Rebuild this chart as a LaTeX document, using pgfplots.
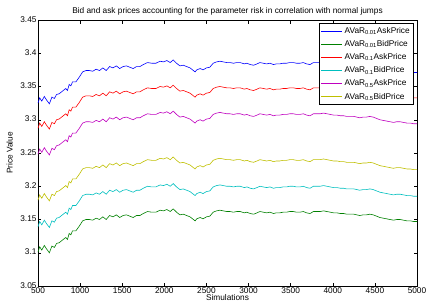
\documentclass[border=0pt]{standalone}
\usepackage{pgfplots}
\pgfplotsset{compat=1.18}
\usepackage{pgfplotstable}
\usepackage{fontspec}
\setmainfont{Liberation Sans}
\definecolor{mblue}{rgb}{0,0,1}
\definecolor{mgreen}{rgb}{0,0.5,0}
\definecolor{mred}{rgb}{1,0,0}
\definecolor{mcyan}{rgb}{0,0.75,0.75}
\definecolor{mmag}{rgb}{0.75,0,0.75}
\definecolor{myel}{rgb}{0.75,0.75,0}
\pgfplotstableread{
x ask001 bid001 ask01 bid01 ask05 bid05
500 3.325 3.101 3.287 3.139 3.248 3.179
520 3.333 3.109 3.295 3.147 3.256 3.187
545 3.328 3.104 3.290 3.142 3.251 3.182
575 3.335 3.111 3.297 3.149 3.258 3.189
600 3.330 3.106 3.292 3.144 3.253 3.184
635 3.324 3.100 3.286 3.138 3.247 3.178
665 3.334 3.110 3.296 3.148 3.257 3.188
695 3.332 3.108 3.294 3.146 3.255 3.186
720 3.338 3.114 3.300 3.152 3.261 3.192
750 3.339 3.115 3.301 3.153 3.262 3.193
790 3.343 3.119 3.305 3.157 3.266 3.197
830 3.347 3.123 3.309 3.161 3.270 3.201
850 3.344 3.120 3.306 3.158 3.267 3.198
870 3.353 3.129 3.315 3.167 3.276 3.207
890 3.351 3.127 3.313 3.165 3.274 3.205
910 3.357 3.133 3.319 3.171 3.280 3.211
950 3.357 3.133 3.319 3.171 3.280 3.211
990 3.364 3.140 3.326 3.178 3.287 3.218
1030 3.372 3.148 3.334 3.186 3.295 3.226
1070 3.374 3.150 3.336 3.188 3.297 3.228
1110 3.374 3.150 3.336 3.188 3.297 3.228
1150 3.373 3.149 3.335 3.187 3.296 3.227
1190 3.376 3.152 3.338 3.190 3.299 3.230
1230 3.374 3.150 3.336 3.188 3.297 3.228
1270 3.378 3.154 3.340 3.192 3.301 3.232
1310 3.374 3.150 3.336 3.188 3.297 3.228
1350 3.380 3.156 3.342 3.194 3.303 3.234
1390 3.378 3.154 3.340 3.192 3.301 3.232
1430 3.381 3.157 3.343 3.195 3.304 3.235
1470 3.377 3.153 3.339 3.191 3.300 3.231
1510 3.380 3.156 3.342 3.194 3.303 3.234
1550 3.381 3.157 3.343 3.195 3.304 3.235
1590 3.379 3.155 3.341 3.193 3.302 3.233
1630 3.377 3.153 3.339 3.191 3.300 3.231
1670 3.380 3.156 3.342 3.194 3.303 3.234
1710 3.380 3.156 3.342 3.194 3.303 3.234
1750 3.383 3.159 3.345 3.197 3.306 3.237
1800 3.386 3.162 3.348 3.200 3.309 3.240
1850 3.385 3.161 3.347 3.199 3.308 3.239
1900 3.385 3.161 3.347 3.199 3.308 3.239
1950 3.388 3.164 3.350 3.202 3.311 3.242
1990 3.387 3.163 3.349 3.201 3.310 3.241
2030 3.389 3.165 3.351 3.203 3.312 3.243
2070 3.386 3.162 3.348 3.200 3.309 3.240
2105 3.390 3.166 3.352 3.204 3.313 3.244
2145 3.385 3.161 3.347 3.199 3.308 3.239
2185 3.381 3.157 3.343 3.195 3.304 3.235
2225 3.382 3.158 3.344 3.196 3.305 3.236
2265 3.380 3.156 3.342 3.194 3.303 3.234
2305 3.378 3.154 3.340 3.192 3.301 3.232
2345 3.374 3.150 3.336 3.188 3.297 3.228
2365 3.372 3.148 3.334 3.186 3.295 3.226
2385 3.375 3.151 3.337 3.189 3.298 3.229
2425 3.377 3.153 3.339 3.191 3.300 3.231
2460 3.375 3.151 3.337 3.189 3.298 3.229
2500 3.378 3.154 3.340 3.192 3.301 3.232
2540 3.379 3.155 3.341 3.193 3.302 3.233
2580 3.385 3.161 3.347 3.199 3.308 3.239
2620 3.387 3.163 3.349 3.201 3.310 3.241
2660 3.388 3.164 3.350 3.202 3.311 3.242
2700 3.387 3.163 3.349 3.201 3.310 3.241
2740 3.386 3.162 3.348 3.200 3.309 3.240
2780 3.386 3.162 3.348 3.200 3.309 3.240
2820 3.385 3.161 3.347 3.199 3.308 3.239
2860 3.386 3.162 3.348 3.200 3.309 3.240
2900 3.386 3.162 3.348 3.200 3.309 3.240
2950 3.384 3.160 3.346 3.198 3.307 3.238
2980 3.385 3.161 3.347 3.199 3.308 3.239
3020 3.383 3.159 3.345 3.197 3.306 3.237
3060 3.382 3.158 3.344 3.196 3.305 3.236
3100 3.384 3.160 3.346 3.198 3.307 3.238
3135 3.386 3.162 3.348 3.200 3.309 3.240
3175 3.385 3.161 3.347 3.199 3.308 3.239
3215 3.384 3.160 3.346 3.198 3.307 3.238
3255 3.385 3.161 3.347 3.199 3.308 3.239
3295 3.383 3.159 3.345 3.197 3.306 3.237
3330 3.384 3.160 3.346 3.198 3.307 3.238
3370 3.384 3.160 3.346 3.198 3.307 3.238
3410 3.385 3.161 3.347 3.199 3.308 3.239
3450 3.385 3.161 3.347 3.199 3.308 3.239
3490 3.386 3.162 3.348 3.200 3.309 3.240
3530 3.386 3.162 3.348 3.200 3.309 3.240
3570 3.385 3.161 3.347 3.199 3.308 3.239
3610 3.385 3.161 3.347 3.199 3.308 3.239
3650 3.386 3.162 3.348 3.200 3.309 3.240
3690 3.384 3.160 3.346 3.198 3.307 3.238
3730 3.383 3.159 3.345 3.197 3.306 3.237
3770 3.386 3.162 3.348 3.200 3.309 3.240
3810 3.386 3.162 3.348 3.200 3.309 3.240
3850 3.386 3.162 3.348 3.200 3.309 3.240
3890 3.387 3.163 3.349 3.201 3.310 3.241
3930 3.386 3.162 3.348 3.200 3.309 3.240
3970 3.385 3.161 3.347 3.199 3.308 3.239
4010 3.384 3.160 3.346 3.198 3.307 3.238
4050 3.384 3.160 3.346 3.198 3.307 3.238
4090 3.383 3.159 3.345 3.197 3.306 3.237
4130 3.383 3.159 3.345 3.197 3.306 3.237
4165 3.382 3.158 3.344 3.196 3.305 3.236
4200 3.382 3.158 3.344 3.196 3.305 3.236
4250 3.382 3.158 3.344 3.196 3.305 3.236
4285 3.381 3.157 3.343 3.195 3.304 3.235
4320 3.380 3.156 3.342 3.194 3.303 3.234
4360 3.381 3.157 3.343 3.195 3.304 3.235
4400 3.381 3.157 3.343 3.195 3.304 3.235
4440 3.382 3.158 3.344 3.196 3.305 3.236
4480 3.381 3.157 3.343 3.195 3.304 3.235
4520 3.379 3.155 3.341 3.193 3.302 3.233
4560 3.377 3.153 3.339 3.191 3.300 3.231
4600 3.376 3.152 3.338 3.190 3.299 3.230
4640 3.375 3.151 3.337 3.189 3.298 3.229
4680 3.374 3.150 3.336 3.188 3.297 3.228
4720 3.373 3.149 3.335 3.187 3.296 3.227
4760 3.374 3.150 3.336 3.188 3.297 3.228
4800 3.374 3.150 3.336 3.188 3.297 3.228
4840 3.373 3.149 3.335 3.187 3.296 3.227
4880 3.372 3.148 3.334 3.186 3.295 3.226
4920 3.372 3.148 3.334 3.186 3.295 3.226
4960 3.371 3.147 3.333 3.185 3.294 3.225
5000 3.371 3.147 3.333 3.185 3.294 3.225
}\datatable
\begin{document}
\fontsize{8.3}{10}\selectfont
\begin{tikzpicture}
\path[use as bounding box] (-38pt,-20pt) rectangle (389pt,286pt);
\begin{axis}[
  at={(0pt,0pt)}, anchor=south west,
  scale only axis, width=379pt, height=266pt,
  xmin=500, xmax=5000, ymin=3.05, ymax=3.45,
  xtick={500,1000,...,5000},
  ytick={3.05,3.1,3.15,3.2,3.25,3.3,3.35,3.4,3.45},
  scaled ticks=false,
  /pgf/number format/.cd, 1000 sep={}, assume math mode=true,
  /pgfplots/.cd,
  tick align=inside,
  major tick length=3.5pt,
  tick style={black, line width=0.5pt},
  axis line style={line width=0.8pt},
  ticklabel style={font=\fontsize{8.3}{10}\selectfont},
  xticklabel style={yshift=1.5pt},
  yticklabel style={xshift=1.5pt, yshift=0.8pt},
  title={Bid and ask prices accounting for the parameter risk in correlation with normal jumps},
  title style={font=\fontsize{8.3}{10}\selectfont, yshift=-4pt},
  xlabel={Simulations}, ylabel={Price Value},
  xlabel style={font=\fontsize{8.3}{10}\selectfont, yshift=4.5pt},
  ylabel style={font=\fontsize{8.3}{10}\selectfont, yshift=2pt},
  legend style={at={(0.992,0.989)}, anchor=north east, draw=black, line width=0.6pt,
    font=\fontsize{8.3}{10}\selectfont, cells={anchor=west}, inner sep=2pt,
    row sep=1.9pt},
  legend image code/.code={\draw[#1, line width=0.6pt] (0pt,0pt) -- (21pt,0pt);},
  every axis plot/.append style={line width=0.6pt},
]
\addplot[mblue] table[x=x, y=ask001] {\datatable};
\addlegendentry{AVaR\textsubscript{0.01}AskPrice}
\addplot[mgreen] table[x=x, y=bid001] {\datatable};
\addlegendentry{AVaR\textsubscript{0.01}BidPrice}
\addplot[mred] table[x=x, y=ask01] {\datatable};
\addlegendentry{AVaR\textsubscript{0.1}AskPrice}
\addplot[mcyan] table[x=x, y=bid01] {\datatable};
\addlegendentry{AVaR\textsubscript{0.1}BidPrice}
\addplot[mmag] table[x=x, y=ask05] {\datatable};
\addlegendentry{AVaR\textsubscript{0.5}AskPrice}
\addplot[myel] table[x=x, y=bid05] {\datatable};
\addlegendentry{AVaR\textsubscript{0.5}BidPrice}
\end{axis}
\end{tikzpicture}
\end{document}
